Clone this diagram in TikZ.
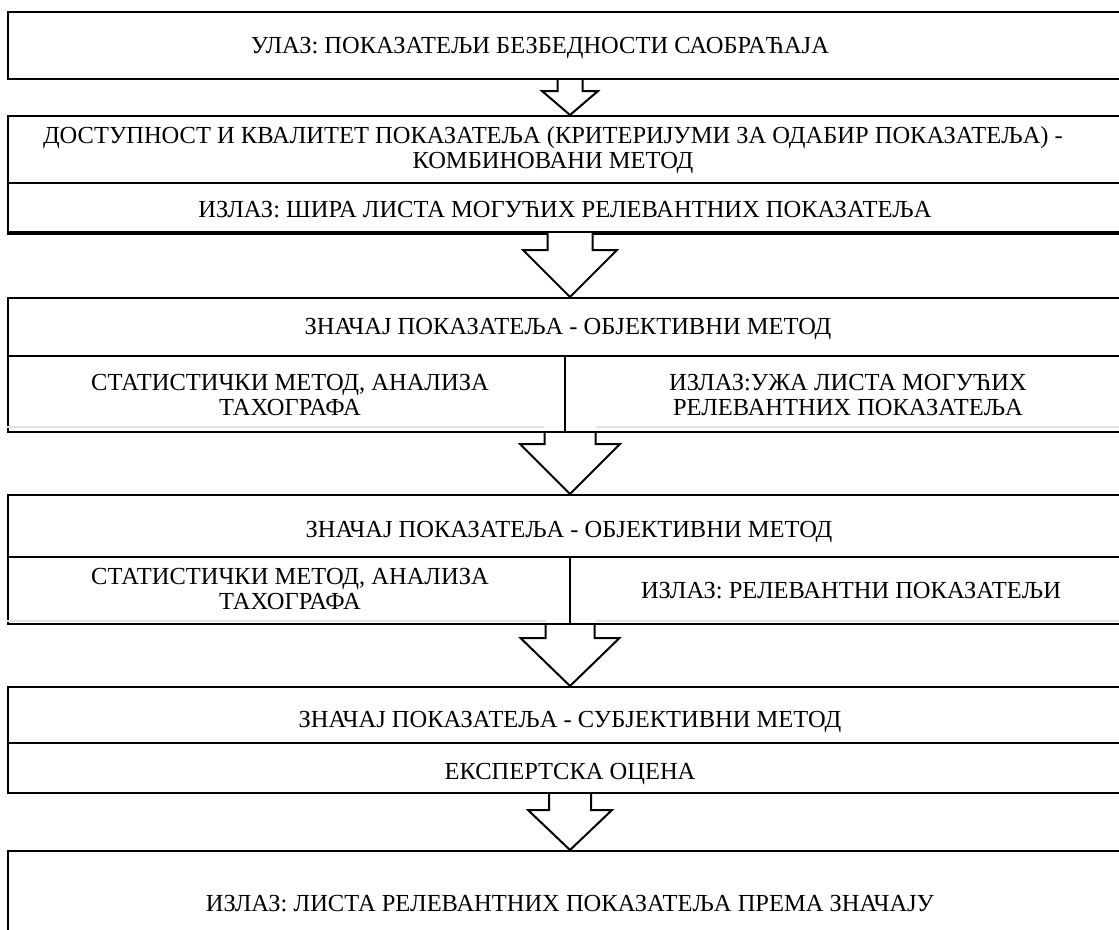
\documentclass[tikz,border=0pt]{standalone}
\usepackage{fontspec}
\setmainfont{Liberation Serif}
\usetikzlibrary{calc}

\tikzset{
    cell/.style={draw, line width=2pt, inner sep=0pt},
    txt/.style={font=\fontsize{24.5}{24.5}\selectfont, align=center, inner sep=0pt},
    oneline/.style={txt, text height=16pt, text depth=0pt},
    blockarrow/.style={draw, line width=2pt, fill=white, line join=miter},
    ghost/.style={draw=black!12, line width=2pt}
}

% from, to, stem half width, head half width, head length
\newcommand{\blockarr}[5]{%
    \draw[blockarrow] ($(#1 -| #2.north)+(-#3,0)$) -- ($(#2.north)+(-#3,-#5)$)
        -- ($(#2.north)+(-#4,-#5)$) -- (#2.north) -- ($(#2.north)+(#4,-#5)$)
        -- ($(#2.north)+(#3,-#5)$) -- ($(#1 -| #2.north)+(#3,0)$);
}

\begin{document}
\begin{tikzpicture}[x=1pt, y=-1pt]
    \path[use as bounding box] (0,0) rectangle (1119,929);
    \clip (0,0) rectangle (1119,929);

    % boxes
    \node[cell, minimum width=1124pt, minimum height=67pt] (b1) at (570,45.5) {};
    \node[cell, minimum width=1124pt, minimum height=67pt] (b2a) at (570,149.5) {};
    \node[cell, minimum width=1124pt, minimum height=49pt] (b2b) at (570,207.5) {};
    \draw[line width=3.5pt] (b2b.south west) -- (b2b.south east);
    \node[cell, minimum width=1124pt, minimum height=58pt] (b3a) at (570,327) {};
    \node[cell, minimum width=557pt, minimum height=76pt] (b3l) at (286.5,394) {};
    \node[cell, minimum width=567pt, minimum height=76pt] (b3r) at (848.5,394) {};
    \node[cell, minimum width=1124pt, minimum height=62pt] (b4a) at (570,526) {};
    \node[cell, minimum width=562pt, minimum height=67pt] (b4l) at (289,590.5) {};
    \node[cell, minimum width=562pt, minimum height=67pt] (b4r) at (851,590.5) {};
    \node[cell, minimum width=1124pt, minimum height=56pt] (b5a) at (570,715) {};
    \node[cell, minimum width=1124pt, minimum height=50pt] (b5b) at (570,768) {};
    \node[cell, minimum width=1124pt, minimum height=159pt] (b6) at (570,930.5) {};

    % faint lines above the split rows
    \draw[ghost] ([yshift=6pt]b3l.south west) -- ++(537,0);
    \draw[ghost] ([xshift=26pt,yshift=6pt]b3l.south -| b4a.north) -- ([yshift=6pt]b3r.south east);
    \draw[ghost] ([yshift=4pt]b4l.south west) -- ++(539,0);
    \draw[ghost] ([xshift=26pt,yshift=4pt]b4l.south -| b5a.north) -- ([yshift=4pt]b4r.south east);

    % texts
    \node[oneline] (t1) at (540,45) {УЛАЗ: ПОКАЗАТЕЉИ БЕЗБЕДНОСТИ САОБРАЋАЈА};
    \node[txt] (t2a) at (553,150) {ДОСТУПНОСТ И КВАЛИТЕТ ПОКАЗАТЕЉА (КРИТЕРИЈУМИ ЗА ОДАБИР ПОКАЗАТЕЉА) -\\КОМБИНОВАНИ МЕТОД};
    \node[oneline] (t2b) at (565,209) {ИЗЛАЗ: ШИРА ЛИСТА МОГУЋИХ РЕЛЕВАНТНИХ ПОКАЗАТЕЉА};
    \node[oneline] (t3a) at (568,326) {ЗНАЧАЈ ПОКАЗАТЕЉА - ОБЈЕКТИВНИ МЕТОД};
    \node[txt] (t3l) at (290,395) {СТАТИСТИЧКИ МЕТОД, АНАЛИЗА\\ТАХОГРАФА};
    \node[txt] (t3r) at (848,395) {ИЗЛАЗ:УЖА ЛИСТА МОГУЋИХ\\РЕЛЕВАНТНИХ ПОКАЗАТЕЉА};
    \node[oneline] (t4a) at (569,529) {ЗНАЧАЈ ПОКАЗАТЕЉА - ОБЈЕКТИВНИ МЕТОД};
    \node[txt] (t4l) at (290,589) {СТАТИСТИЧКИ МЕТОД, АНАЛИЗА\\ТАХОГРАФА};
    \node[oneline] (t4r) at (851,590) {ИЗЛАЗ: РЕЛЕВАНТНИ ПОКАЗАТЕЉИ};
    \node[oneline] (t5a) at (570,719) {ЗНАЧАЈ ПОКАЗАТЕЉА - СУБЈЕКТИВНИ МЕТОД};
    \node[oneline] (t5b) at (570,771) {ЕКСПЕРТСКА ОЦЕНА};
    \node[oneline] (t6) at (570,903) {ИЗЛАЗ: ЛИСТА РЕЛЕВАНТНИХ ПОКАЗАТЕЉА ПРЕМА ЗНАЧАЈУ};

    % arrows
    \blockarr{b1.south}{b2a}{12.5}{28}{24}
    \blockarr{b2b.south}{b3a}{22.5}{47}{47}
    \blockarr{b3l.south}{b4a}{25.5}{50}{50}
    \blockarr{b4l.south}{b5a}{24.5}{49.5}{48}
    \blockarr{b5b.south}{b6}{21}{42}{40}
\end{tikzpicture}
\end{document}
